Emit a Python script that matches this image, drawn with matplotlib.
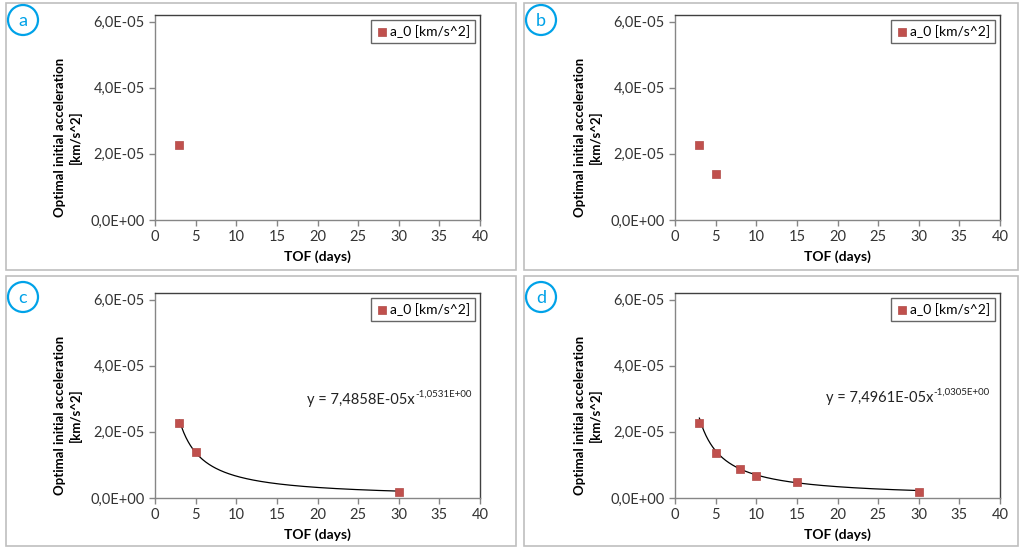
import matplotlib
matplotlib.use("Agg")
import matplotlib.pyplot as plt
from matplotlib.patches import Rectangle, Ellipse
import numpy as np

plt.rcParams['font.family'] = ['Lato', 'DejaVu Sans']

# Data
tof_a = [3]
acc_a = [2.28e-5]
tof_b = [3, 5]
acc_b = [2.28e-5, 1.38e-5]
tof_c = [3, 5, 30]
acc_c = [2.28e-5, 1.38e-5, 0.18e-5]
tof_d = [3, 5, 8, 10, 15, 30]
acc_d = [2.28e-5, 1.37e-5, 0.88e-5, 0.68e-5, 0.47e-5, 0.18e-5]
fit_c = (7.4858e-5, -1.0531)
fit_d = (7.4961e-5, -1.0305)
eq_c = ("y = 7,4858E-05x", "-1,0531E+00")
eq_d = ("y = 7,4961E-05x", "-1,0305E+00")
yticks = [0, 2e-5, 4e-5, 6e-5]
ytick_labels = ["0,0E+00", "2,0E-05", "4,0E-05", "6,0E-05"]
xticks = [0, 5, 10, 15, 20, 25, 30, 35, 40]
panel_letters = ["a", "b", "c", "d"]
legend_label = "a_0 [km/s^2]"

W, H = 1022, 550
fig = plt.figure(figsize=(W / 100, H / 100), dpi=100)

def fx(px):
    return px / W

def fy(py):
    return 1 - py / H

frames = [(6, 3, 516, 270), (524, 3, 1018, 270), (6, 276, 516, 546), (524, 276, 1018, 546)]
axes_px = [(155, 15, 480, 220), (675, 15, 1000, 220), (155, 293, 480, 498), (675, 293, 1000, 498)]
circles = [(23, 20), (541, 20), (23, 297), (541, 297)]
eq_pos = [None, None, (307, 400), (826, 398)]

for (x0, y0, x1, y1) in frames:
    fig.add_artist(Rectangle((fx(x0), fy(y1)), fx(x1 - x0), (y1 - y0) / H,
                             transform=fig.transFigure, fill=False,
                             edgecolor="#bfbfbf", linewidth=1.2))

datasets = [(tof_a, acc_a, None, None), (tof_b, acc_b, None, None),
            (tof_c, acc_c, fit_c, eq_c), (tof_d, acc_d, fit_d, eq_d)]

for i, ((x0, y0, x1, y1), (xs, ys, fit, eq)) in enumerate(zip(axes_px, datasets)):
    aw, ah = x1 - x0, y1 - y0
    ax = fig.add_axes([fx(x0), fy(y1), fx(aw), ah / H])
    ax.set_xlim(0, 40)
    ax.set_ylim(0, 6.2e-5)
    if fit is not None:
        xx = np.linspace(min(xs), max(xs), 200)
        ax.plot(xx, fit[0] * xx ** fit[1], color="black", linewidth=0.9, zorder=2)
    ax.scatter(xs, ys, marker="s", s=30, color="#c0504d", edgecolors="#b04a47",
               linewidths=0.5, zorder=3, label=legend_label)
    ax.set_xticks(xticks)
    ax.set_xticklabels([str(t) for t in xticks])
    ax.set_yticks(yticks)
    ax.set_yticklabels(ytick_labels)
    ax.tick_params(axis="both", labelsize=10.5, colors="#868686", labelcolor="#333333",
                   length=4, width=1, direction="out")
    ax.spines["left"].set_color("#868686")
    ax.spines["bottom"].set_color("#868686")
    ax.spines["top"].set_color("#404040")
    ax.spines["right"].set_color("#404040")
    for s in ax.spines.values():
        s.set_linewidth(1)
    ax.set_xlabel("TOF (days)", fontsize=10, fontweight="bold", labelpad=4)
    ax.set_ylabel("Optimal initial acceleration\n[km/s^2]", fontsize=9.5,
                  fontweight="bold", linespacing=1.3)
    ax.yaxis.set_label_coords(-73 / aw, 82.5 / ah)
    leg = ax.legend(loc="upper right", fontsize=10, frameon=True, fancybox=False,
                    borderpad=0.35, handletextpad=0.2, handlelength=0.8,
                    borderaxespad=0.35, markerscale=1.0)
    leg.get_frame().set_edgecolor("#404040")
    leg.get_frame().set_linewidth(1)
    if eq is not None:
        ex, ey = eq_pos[i]
        t = fig.text(fx(ex), fy(ey), eq[0], fontsize=10.5, color="#222222",
                     ha="left", va="center")
        fig.canvas.draw()
        bb = t.get_window_extent()
        fig.text(bb.x1 / W + 0.5 / W, fy(ey - 6), eq[1], fontsize=7, color="#222222",
                 ha="left", va="center")

for (cx, cy), letter in zip(circles, panel_letters):
    fig.add_artist(Ellipse((fx(cx), fy(cy)), 30 / W, 30 / H, transform=fig.transFigure,
                           fill=False, edgecolor="#00a2e8", linewidth=1.6))
    fig.text(fx(cx), fy(cy + 1), letter, fontsize=13, color="#00a2e8",
             ha="center", va="center")

fig.savefig("out.png", dpi=100)
